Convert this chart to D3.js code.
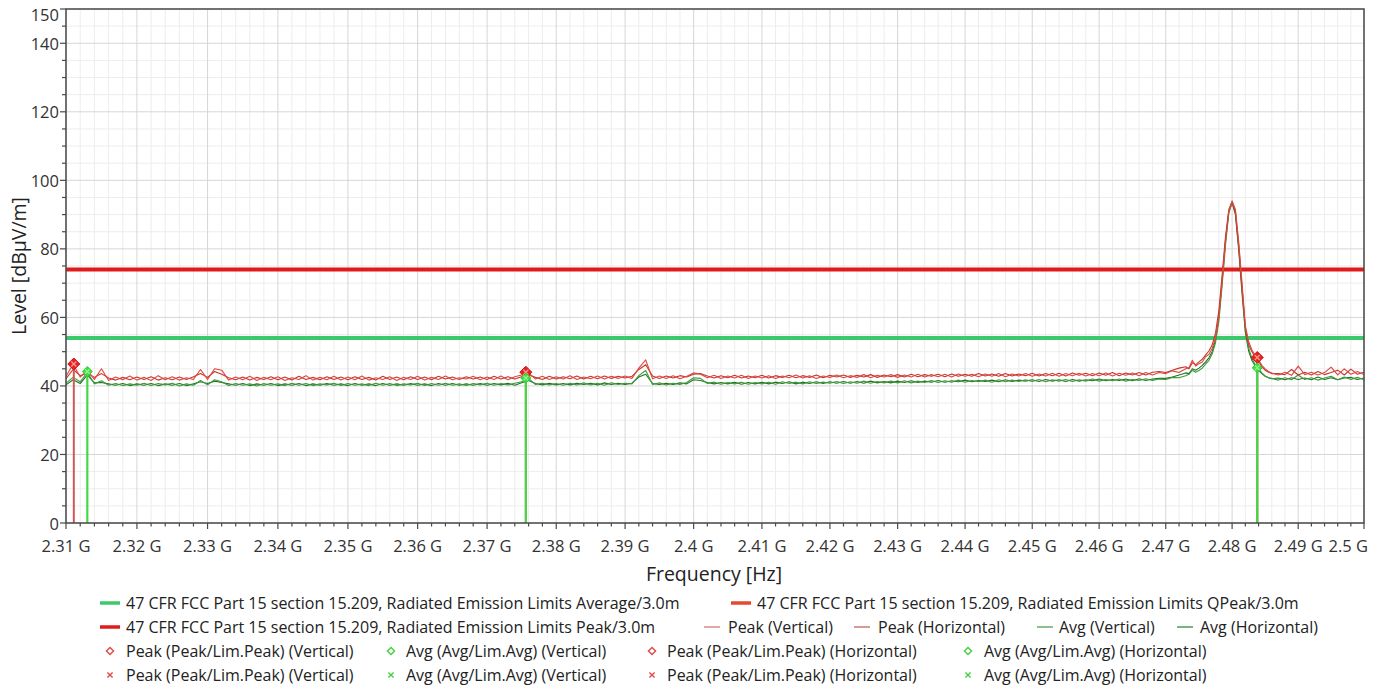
<!DOCTYPE html>
<html><head><meta charset="utf-8">
<script src="https://cdn.jsdelivr.net/npm/d3@7"></script>
<style>
html,body{margin:0;padding:0;background:#fff;}
svg{display:block;font-family:"Open Sans","Noto Sans",sans-serif;}
</style></head><body>
<svg id="chart" width="1387" height="688"></svg>
<script>
// Sweep frequencies in MHz (1 MHz steps, 0.5 MHz steps around the carrier)
const freqMHz = [
2310,2311,2312,2313,2314,2315,2316,2317,2318,2319,
2320,2321,2322,2323,2324,2325,2326,2327,2328,2329,
2330,2331,2332,2333,2334,2335,2336,2337,2338,2339,
2340,2341,2342,2343,2344,2345,2346,2347,2348,2349,
2350,2351,2352,2353,2354,2355,2356,2357,2358,2359,
2360,2361,2362,2363,2364,2365,2366,2367,2368,2369,
2370,2371,2372,2373,2374,2375,2376,2377,2378,2379,
2380,2381,2382,2383,2384,2385,2386,2387,2388,2389,
2390,2391,2392,2393,2394,2395,2396,2397,2398,2399,
2400,2401,2402,2403,2404,2405,2406,2407,2408,2409,
2410,2411,2412,2413,2414,2415,2416,2417,2418,2419,
2420,2421,2422,2423,2424,2425,2426,2427,2428,2429,
2430,2431,2432,2433,2434,2435,2436,2437,2438,2439,
2440,2441,2442,2443,2444,2445,2446,2447,2448,2449,
2450,2451,2452,2453,2454,2455,2456,2457,2458,2459,
2460,2461,2462,2463,2464,2465,2466,2467,2468,2469,
2470,2471,2472,2473,
2473.5,2474,2474.5,2475,2475.5,2476,2476.5,2477,2477.5,2478,2478.5,2479,2479.5,
2480,2480.5,2481,2481.5,2482,2482.5,2483,2483.5,2484,2484.5,2485,2485.5,2486,
2487,2488,2489,2490,2491,2492,2493,2494,2495,2496,2497,2498,2499,2500];

// Level traces in dBµV/m
const peakVertical = [
42.8,46.3,42.6,44.5,41.9,45.0,41.6,42.6,41.8,42.9,
41.7,42.5,41.6,43.0,41.8,42.7,41.7,42.4,41.9,44.8,
41.9,45.0,44.6,41.7,42.6,41.8,42.8,41.6,42.5,41.8,
42.7,41.6,42.4,41.9,43.0,41.7,42.5,41.8,42.8,41.7,
42.6,41.8,42.9,41.7,42.4,41.9,42.7,41.6,42.5,41.9,
42.8,41.7,42.5,41.9,42.9,41.8,42.4,42.0,42.8,41.8,
42.6,41.9,42.9,41.8,42.7,43.2,43.8,42.0,42.8,41.9,
42.7,42.0,43.0,41.9,42.6,42.1,42.9,42.0,42.8,42.2,
42.9,42.2,45.2,47.6,42.1,42.9,42.2,43.0,42.1,42.8,
43.8,43.4,42.4,43.1,42.2,42.9,42.3,43.1,42.2,42.9,
42.3,43.0,42.2,42.9,42.4,43.2,42.3,43.0,42.2,42.9,
42.5,43.2,42.4,43.0,42.5,43.3,42.4,43.1,42.6,43.3,
42.5,43.2,42.6,43.4,42.6,43.3,42.7,43.4,42.6,43.5,
42.8,43.4,42.7,43.5,42.8,43.6,42.7,43.5,42.9,43.6,
42.8,43.5,42.9,43.7,42.8,43.6,43.0,43.7,42.9,43.6,
43.0,43.8,42.9,43.7,43.1,43.8,43.0,43.9,43.2,43.9,
43.6,44.4,43.9,45.0,
45.3,47.5,45.8,46.5,47.0,48.5,49.2,51.0,54.0,60.0,70.5,82.0,91.0,
94.0,91.5,82.0,70.0,57.5,53.0,50.5,48.8,47.6,46.0,45.0,44.2,43.8,
43.2,44.0,43.1,45.8,43.3,44.0,43.2,43.9,45.5,43.2,45.0,43.4,44.2,43.3];

const peakHorizontal = [
42.1,44.8,43.0,43.8,42.5,43.6,42.3,41.7,42.5,41.8,
42.6,41.9,42.7,41.7,42.4,41.8,42.6,41.9,42.7,43.6,
42.5,44.2,43.4,42.4,41.8,42.6,41.7,42.5,41.9,42.7,
41.8,42.6,41.7,42.8,41.9,42.5,41.8,42.7,41.9,42.6,
41.8,42.7,41.9,42.5,41.7,42.8,41.9,42.6,41.8,42.7,
41.9,42.6,41.8,42.8,42.0,42.6,41.9,42.7,42.0,42.6,
41.9,42.8,42.0,42.7,42.0,42.7,43.2,42.5,41.9,42.8,
42.0,42.7,42.1,42.9,42.0,42.8,42.1,42.9,42.2,42.8,
42.3,42.8,44.8,46.2,42.9,42.2,42.9,42.3,43.0,42.6,
43.4,43.6,42.9,42.3,43.0,42.4,43.1,42.3,42.9,42.4,
43.1,42.3,43.0,42.5,43.1,42.4,43.0,42.5,43.2,42.4,
43.1,42.6,43.2,42.5,43.1,42.6,43.3,42.5,43.2,42.7,
43.3,42.6,43.4,42.7,43.3,42.8,43.4,42.7,43.5,42.8,
43.4,42.8,43.6,42.9,43.5,42.8,43.6,42.9,43.5,43.0,
43.7,42.9,43.6,43.0,43.7,42.9,43.8,43.1,43.7,43.0,
43.8,43.1,43.9,43.0,43.8,43.2,43.9,43.2,44.0,44.2,
43.9,44.6,45.2,45.6,
45.0,46.8,46.2,47.0,47.8,49.0,50.2,52.0,55.5,62.0,72.5,83.5,91.5,
93.8,90.5,80.5,68.5,57.0,52.0,50.0,48.4,47.2,45.6,44.6,44.0,43.6,
43.6,43.3,44.8,43.2,44.0,43.2,44.2,43.3,43.9,44.6,43.2,44.9,43.4,44.0];

const avgVertical = [
40.8,42.5,41.2,44.0,40.6,41.5,40.2,40.7,40.1,40.6,
40.2,40.8,40.1,40.7,40.3,40.8,40.0,40.6,40.2,41.6,
40.3,41.8,41.2,40.1,40.7,40.2,40.6,40.0,40.7,40.2,
40.6,40.1,40.8,40.2,40.7,40.1,40.6,40.3,40.8,40.1,
40.7,40.2,40.6,40.1,40.8,40.2,40.7,40.1,40.6,40.3,
40.8,40.1,40.7,40.2,40.8,40.2,40.6,40.1,40.7,40.3,
40.8,40.2,40.7,40.3,40.8,41.2,42.2,40.4,40.8,40.3,
40.7,40.2,40.8,40.3,40.9,40.3,40.8,40.2,40.9,40.4,
40.8,40.6,43.0,44.5,40.4,40.9,40.3,40.8,40.4,41.0,
42.4,42.2,40.7,41.1,40.5,41.0,40.6,41.1,40.5,41.0,
40.6,41.1,40.5,41.2,40.7,41.1,40.6,41.2,40.7,41.1,
40.8,41.3,40.7,41.2,40.8,41.4,40.8,41.3,40.9,41.4,
40.9,41.5,40.9,41.4,41.0,41.6,41.0,41.5,41.1,41.7,
41.1,41.6,41.2,41.7,41.1,41.8,41.2,41.7,41.3,41.8,
41.3,41.9,41.2,41.8,41.4,41.9,41.3,41.8,41.4,42.0,
41.4,41.9,41.5,42.0,41.4,41.9,41.6,42.1,41.6,42.0,
41.9,42.5,42.4,43.0,
43.4,44.6,44.0,44.5,45.2,46.4,47.4,49.4,52.6,58.8,69.5,81.0,90.4,
93.6,91.0,81.0,68.8,56.8,51.0,48.0,46.2,45.0,43.8,42.9,42.4,42.2,
41.7,42.4,41.8,43.2,41.9,42.4,41.7,42.3,42.8,41.8,42.6,41.9,42.5,41.8];

const avgHorizontal = [
40.3,41.8,40.7,43.2,40.9,41.0,40.6,40.2,40.7,40.1,
40.6,40.2,40.7,40.1,40.6,40.2,40.7,40.1,40.6,41.2,
40.7,41.4,41.0,40.6,40.2,40.7,40.1,40.6,40.2,40.7,
40.1,40.6,40.2,40.7,40.1,40.6,40.2,40.7,40.2,40.6,
40.1,40.7,40.2,40.6,40.1,40.7,40.2,40.6,40.2,40.7,
40.2,40.6,40.1,40.7,40.2,40.7,40.2,40.6,40.2,40.7,
40.2,40.7,40.3,40.8,40.2,40.9,41.6,40.7,40.3,40.8,
40.3,40.7,40.3,40.8,40.4,40.8,40.3,40.9,40.4,40.8,
40.4,40.8,42.6,43.4,40.7,40.4,40.8,40.4,40.9,40.6,
41.8,41.6,41.0,40.6,41.0,40.6,41.1,40.5,41.0,40.6,
41.1,40.6,41.1,40.7,41.2,40.6,41.1,40.7,41.2,40.7,
41.2,40.8,41.3,40.8,41.3,40.8,41.4,40.9,41.3,40.9,
41.4,41.0,41.5,41.0,41.4,41.1,41.6,41.1,41.5,41.2,
41.7,41.2,41.6,41.3,41.7,41.2,41.8,41.3,41.7,41.4,
41.8,41.3,41.9,41.4,41.8,41.3,41.9,41.4,41.8,41.5,
42.0,41.5,41.9,41.6,42.0,41.5,42.1,41.6,42.0,42.2,
42.2,42.6,43.2,43.8,
43.6,45.0,44.6,45.2,46.0,47.0,48.2,50.0,53.6,60.2,71.0,82.4,90.8,
93.4,90.0,79.6,67.0,55.6,50.2,47.4,45.8,44.6,43.6,42.8,42.4,42.1,
42.3,41.8,42.4,41.9,42.3,41.8,42.6,41.9,42.4,41.8,42.3,42.5,41.9,42.3];

// Limit lines (dBµV/m)
const limitPeak = 74;
const limitAverage = 54;

// Final measurement points: frequency in MHz, level in dBµV/m
const peakFinalFreq  = [2311.1, 2375.6, 2483.8];
const peakFinalLevel = [46.4, 44.0, 48.3];
const avgFinalFreq   = [2313.0, 2375.6, 2483.8];
const avgFinalLevel  = [44.2, 42.3, 45.3];

// Axes
const xMajorTicks = [2310,2320,2330,2340,2350,2360,2370,2380,2390,2400,2410,2420,2430,2440,2450,2460,2470,2480,2490,2500];
const xTickLabels = ["2.31 G","2.32 G","2.33 G","2.34 G","2.35 G","2.36 G","2.37 G","2.38 G","2.39 G","2.4 G","2.41 G","2.42 G","2.43 G","2.44 G","2.45 G","2.46 G","2.47 G","2.48 G","2.49 G","2.5 G"];
const yMajorTicks = [0,20,40,60,80,100,120,140,150];

// Legend text
const legendRow1 = ["47 CFR FCC Part 15 section 15.209, Radiated Emission Limits Average/3.0m",
                    "47 CFR FCC Part 15 section 15.209, Radiated Emission Limits QPeak/3.0m"];
const legendRow2 = ["47 CFR FCC Part 15 section 15.209, Radiated Emission Limits Peak/3.0m",
                    "Peak (Vertical)","Peak (Horizontal)","Avg (Vertical)","Avg (Horizontal)"];
const legendRow3 = ["Peak (Peak/Lim.Peak) (Vertical)","Avg (Avg/Lim.Avg) (Vertical)",
                    "Peak (Peak/Lim.Peak) (Horizontal)","Avg (Avg/Lim.Avg) (Horizontal)"];

const svg = d3.select("#chart");
const L = 66, R = 1364, T = 9, B = 523;

const x = d3.scaleLog().domain([2310, 2500]).range([L, R]);
const y = d3.scaleLinear().domain([0, 150]).range([B, T]);

const C = {
  avgLimit: "#3cc96c", peakLimit: "#e01b1b", qpLimit: "#e5492e",
  peakV: "#e2453f", peakH: "#c0392f", avgV: "#3c9a3c", avgH: "#1f7420",
  peakMark: "#e82222", avgMark: "#3fe03f",
  legPeakV: "#db8a8a", legPeakH: "#c97a72", legAvgV: "#6aa86a", legAvgH: "#4f9a55"
};

// ---- grid ----
const grid = svg.append("g");
const xMinor = d3.range(2310, 2501, 2).filter(f => f % 10 !== 0);
const yMinor = d3.range(0, 151, 5).filter(v => !yMajorTicks.includes(v));

grid.selectAll(".xm").data(xMinor).join("line")
  .attr("x1", d => x(d)).attr("x2", d => x(d)).attr("y1", T).attr("y2", B)
  .attr("stroke", "#ededed").attr("stroke-width", 1);
grid.selectAll(".ym").data(yMinor).join("line")
  .attr("x1", L).attr("x2", R).attr("y1", d => y(d)).attr("y2", d => y(d))
  .attr("stroke", "#ededed").attr("stroke-width", 1);
grid.selectAll(".xM").data(xMajorTicks).join("line")
  .attr("x1", d => x(d)).attr("x2", d => x(d)).attr("y1", T).attr("y2", B)
  .attr("stroke", "#d6d6d6").attr("stroke-width", 1);
grid.selectAll(".yM").data(yMajorTicks).join("line")
  .attr("x1", L).attr("x2", R).attr("y1", d => y(d)).attr("y2", d => y(d))
  .attr("stroke", "#d6d6d6").attr("stroke-width", 1);

// ---- limit lines ----
svg.append("line").attr("x1", L).attr("x2", R)
  .attr("y1", y(limitAverage)).attr("y2", y(limitAverage))
  .attr("stroke", C.avgLimit).attr("stroke-width", 4);
svg.append("line").attr("x1", L).attr("x2", R)
  .attr("y1", y(limitPeak)).attr("y2", y(limitPeak))
  .attr("stroke", C.peakLimit).attr("stroke-width", 4);

// ---- traces ----
const line = d3.line().x((d, i) => x(freqMHz[i])).y(d => y(d));
svg.append("clipPath").attr("id", "plotclip")
  .append("rect").attr("x", L).attr("y", T).attr("width", R - L).attr("height", B - T);
const plot = svg.append("g").attr("clip-path", "url(#plotclip)");
[[avgHorizontal, C.avgH], [avgVertical, C.avgV], [peakHorizontal, C.peakH], [peakVertical, C.peakV]]
  .forEach(([vals, col]) => {
    plot.append("path").datum(vals).attr("d", line)
      .attr("fill", "none").attr("stroke", col).attr("stroke-width", 1.1)
      .attr("stroke-linejoin", "round");
  });

// ---- final measurement stems and markers ----
const diamond = r => `M0,${-r}L${r},0L0,${r}L${-r},0Z`;
const cross = r => `M${-r},${-r}L${r},${r}M${-r},${r}L${r},${-r}`;

plot.selectAll(".pstem").data(peakFinalFreq).join("line")
  .attr("x1", d => x(d)).attr("x2", d => x(d))
  .attr("y1", (d, i) => y(peakFinalLevel[i])).attr("y2", y(0))
  .attr("stroke", "#d65555").attr("stroke-width", 2);
plot.selectAll(".astem").data(avgFinalFreq).join("line")
  .attr("x1", d => x(d)).attr("x2", d => x(d))
  .attr("y1", (d, i) => y(avgFinalLevel[i])).attr("y2", y(0))
  .attr("stroke", "#45d845").attr("stroke-width", 2.2);

const pm = svg.selectAll(".pm").data(peakFinalFreq).join("g")
  .attr("transform", (d, i) => `translate(${x(d)},${y(peakFinalLevel[i])})`);
pm.append("path").attr("d", diamond(6)).attr("fill", C.peakMark).attr("stroke", "#d01010").attr("stroke-width", 1);
pm.append("path").attr("d", cross(2.5)).attr("stroke", "#f59a9a").attr("stroke-width", 1.2);

const am = svg.selectAll(".am").data(avgFinalFreq).join("g")
  .attr("transform", (d, i) => `translate(${x(d)},${y(avgFinalLevel[i])})`);
am.append("path").attr("d", diamond(5)).attr("fill", C.avgMark).attr("stroke", "#30c830").attr("stroke-width", 1);
am.append("path").attr("d", cross(2.3)).attr("stroke", "#9af59a").attr("stroke-width", 1.1);

// ---- frame and axes ----
svg.append("rect").attr("x", L).attr("y", T).attr("width", R - L).attr("height", B - T)
  .attr("fill", "none").attr("stroke", "#4a4a4a").attr("stroke-width", 1.5);

const axis = svg.append("g").attr("fill", "#333").attr("font-size", 16.5);
axis.selectAll(".yt").data(d3.range(0, 151, 5)).join("line")
  .attr("x1", d => yMajorTicks.includes(d) ? L - 6 : L - 4).attr("x2", L)
  .attr("y1", d => y(d)).attr("y2", d => y(d))
  .attr("stroke", "#4a4a4a").attr("stroke-width", 1.2);
axis.selectAll(".yl").data(yMajorTicks).join("text")
  .attr("x", L - 7).attr("y", d => d === 150 ? y(d) + 5 : y(d))
  .attr("text-anchor", "end").attr("dominant-baseline", "central")
  .text(d => d);

axis.selectAll(".xt").data(d3.range(2310, 2501, 2)).join("line")
  .attr("x1", d => x(d)).attr("x2", d => x(d))
  .attr("y1", B).attr("y2", d => d % 10 === 0 ? B + 6 : B + 3.5)
  .attr("stroke", "#4a4a4a").attr("stroke-width", 1.2);
axis.selectAll(".xl").data(xMajorTicks).join("text")
  .attr("x", (d, i) => i === xMajorTicks.length - 1 ? x(d) + 4 : x(d))
  .attr("y", 545)
  .attr("text-anchor", (d, i) => i === xMajorTicks.length - 1 ? "end" : "middle")
  .attr("dominant-baseline", "central")
  .text((d, i) => xTickLabels[i]);

svg.append("text").attr("x", 714).attr("y", 573)
  .attr("text-anchor", "middle").attr("dominant-baseline", "central")
  .attr("font-size", 19.5).attr("fill", "#222").text("Frequency [Hz]");
svg.append("text").attr("transform", `translate(18,${(T + B) / 2}) rotate(-90)`)
  .attr("text-anchor", "middle").attr("dominant-baseline", "central")
  .attr("font-size", 19.5).attr("fill", "#222").text("Level [dBµV/m]");

// ---- legend ----
const leg = svg.append("g").attr("font-size", 16).attr("fill", "#222");
function legLine(x0, yy, w, col, sw, label, tx) {
  leg.append("line").attr("x1", x0).attr("x2", x0 + w).attr("y1", yy).attr("y2", yy)
    .attr("stroke", col).attr("stroke-width", sw);
  leg.append("text").attr("x", tx).attr("y", yy).attr("dominant-baseline", "central").text(label);
}
function legMark(cx, yy, col, kind, label, tx) {
  leg.append("path").attr("transform", `translate(${cx},${yy})`)
    .attr("d", kind === "d" ? diamond(3.6) : cross(2.6))
    .attr("fill", "none").attr("stroke", col).attr("stroke-width", 1.4);
  leg.append("text").attr("x", tx).attr("y", yy).attr("dominant-baseline", "central").text(label);
}
const r1 = 603, r2 = 627, r3 = 651, r4 = 675;
legLine(100, r1, 20, C.avgLimit, 3.5, legendRow1[0], 126);
legLine(731, r1, 20, C.qpLimit, 3.5, legendRow1[1], 757);
legLine(100, r2, 20, C.peakLimit, 3.5, legendRow2[0], 126);
legLine(704, r2, 16, C.legPeakV, 1.5, legendRow2[1], 728);
legLine(854, r2, 16, C.legPeakH, 1.5, legendRow2[2], 878);
legLine(1037, r2, 16, C.legAvgV, 1.5, legendRow2[3], 1059);
legLine(1177, r2, 16, C.legAvgH, 1.5, legendRow2[4], 1200);
const markCols = [[110, 126, "#e04a4a"], [391, 406, "#44d044"], [652, 667, "#e04a4a"], [968, 984, "#44d044"]];
markCols.forEach(([mx, tx, col], i) => {
  legMark(mx, r3, col, "d", legendRow3[i], tx);
  legMark(mx, r4, col, "x", legendRow3[i], tx);
});
</script>
</body></html>
